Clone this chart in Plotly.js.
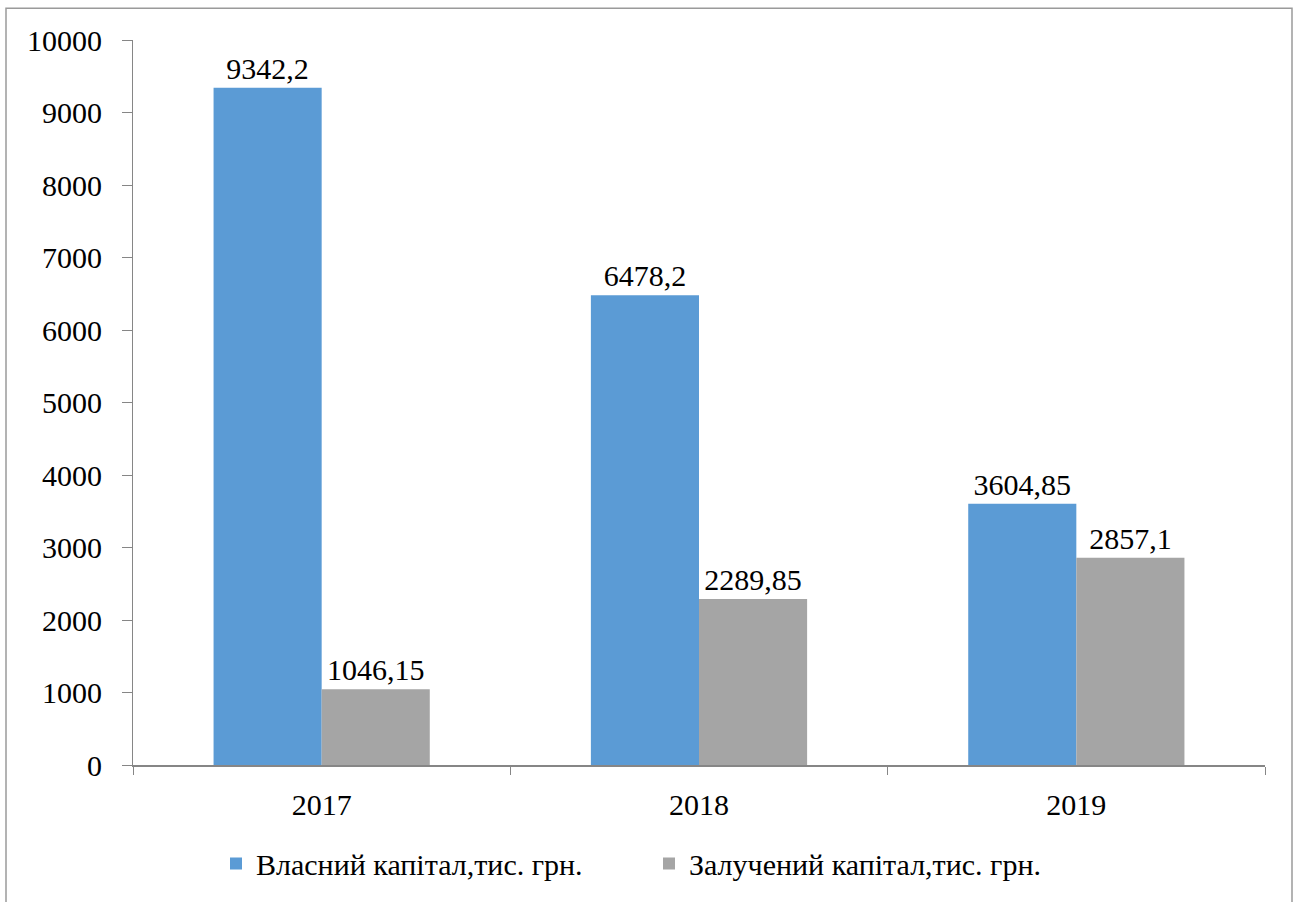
<!DOCTYPE html>
<html>
<head>
<meta charset="utf-8">
<script src="https://cdn.plot.ly/plotly-3.0.1.min.js"></script>
<style>
html,body{margin:0;padding:0;background:#fff;}
</style>
</head>
<body>
<div id="chart" style="width:1298px;height:902px"></div>
<script>
const years = ['2017', '2018', '2019'];
const ownCapital = [9342.2, 6478.2, 3604.85];
const borrowedCapital = [1046.15, 2289.85, 2857.1];
const seriesNames = ['Власний капітал,тис. грн.', 'Залучений капітал,тис. грн.'];

function draw() {
  const fmt = v => String(v).replace('.', ',');
  const fam = 'serif';
  const fs = 30;
  const f = {family: fam, size: fs, color: '#000'};

  const traces = [
    {
      type: 'bar', x: years, y: ownCapital, name: seriesNames[0],
      marker: {color: '#5B9BD5'},
      text: ownCapital.map(fmt), textposition: 'outside', textfont: f,
      cliponaxis: false, hoverinfo: 'none'
    },
    {
      type: 'bar', x: years, y: borrowedCapital, name: seriesNames[1],
      marker: {color: '#A5A5A5'},
      text: borrowedCapital.map(fmt), textposition: 'outside', textfont: f,
      cliponaxis: false, hoverinfo: 'none'
    }
  ];

  // plot area pixel box: x 133..1265, y 40..768
  const pl = 133, pr = 1265, pt = 40, pb = 768, fw = 1298, fh = 902;
  const toX = v => (v - pl) / (pr - pl);
  const toY = v => (pb - v) / (pb - pt);

  const lay = {
    width: fw, height: fh,
    margin: {l: pl, r: fw - pr, t: pt, b: fh - pb},
    paper_bgcolor: '#fff', plot_bgcolor: '#fff',
    font: f,
    barmode: 'group', bargap: 0.427, bargroupgap: 0,
    showlegend: true,
    legend: {
      orientation: 'h', x: toX(649), xanchor: 'center', y: toY(867), yanchor: 'middle',
      font: f, traceorder: 'normal', entrywidth: 388, entrywidthmode: 'pixels'
    },
    xaxis: {
      type: 'category',
      showline: true, linecolor: '#868686', linewidth: 1.5,
      ticks: 'outside', tickson: 'boundaries', ticklen: 8, tickcolor: '#868686',
      showgrid: false, zeroline: false,
      tickfont: f, ticklabelstandoff: 12
    },
    yaxis: {
      range: [0, 10000], dtick: 1000, tick0: 0,
      exponentformat: 'none', tickformat: 'd',
      showline: true, linecolor: '#868686', linewidth: 1,
      ticks: 'outside', ticklen: 10, tickcolor: '#868686',
      showgrid: false, zeroline: false,
      tickfont: f, ticklabelstandoff: 14
    },
    shapes: [{
      type: 'rect', xref: 'paper', yref: 'paper',
      x0: toX(6), x1: toX(1292), y0: toY(915), y1: toY(8),
      line: {color: '#9a9a9a', width: 1.5}, fillcolor: 'rgba(0,0,0,0)'
    }]
  };

  Plotly.newPlot('chart', traces, lay, {displayModeBar: false});
}
draw();
</script>
</body>
</html>
